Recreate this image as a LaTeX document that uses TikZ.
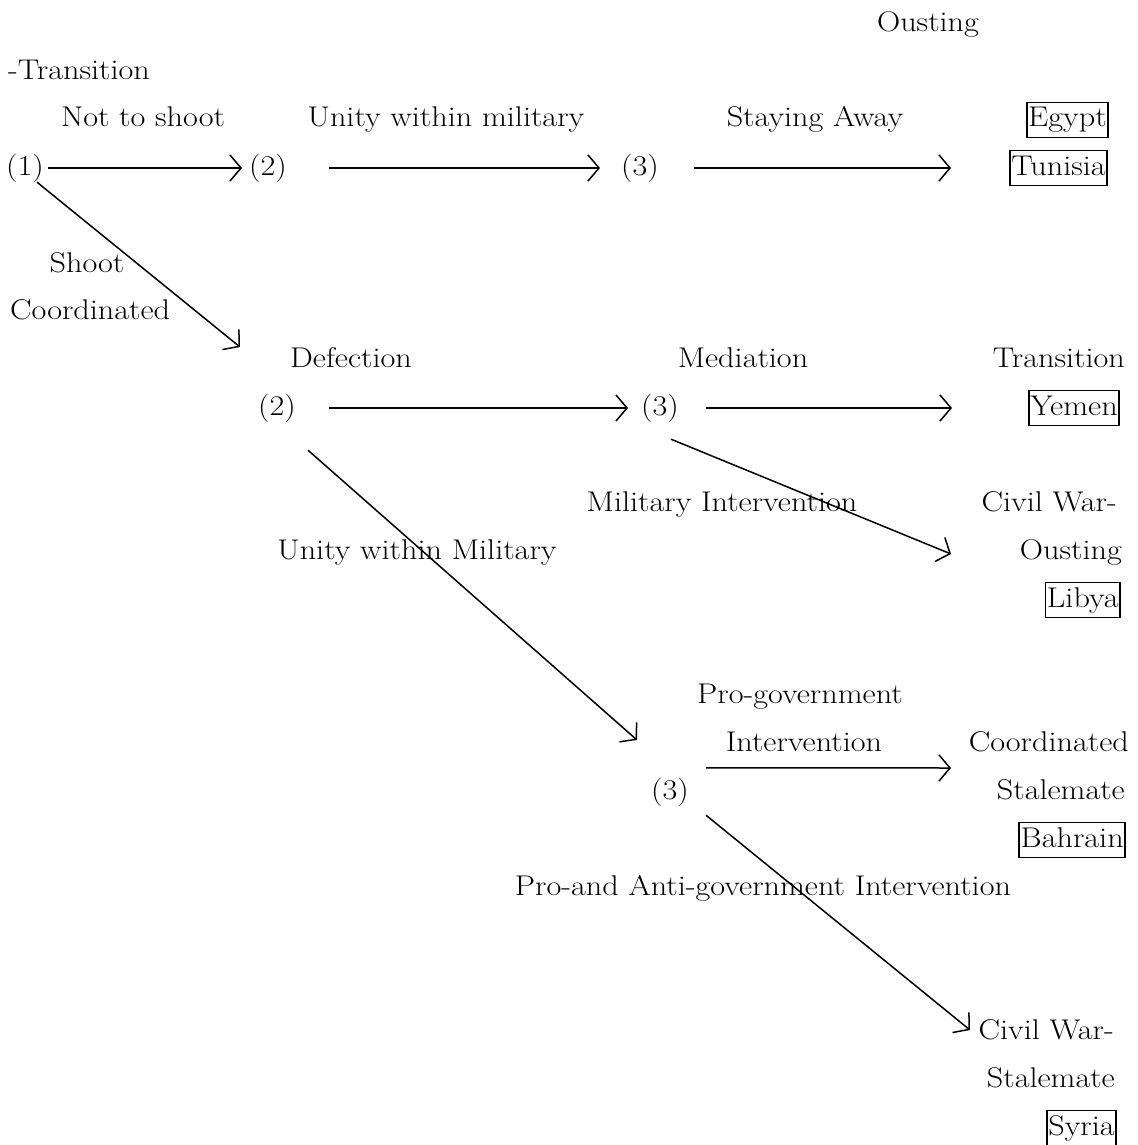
\documentclass[tikz,border=0pt]{standalone}
\usepackage{fontspec}
\setmainfont{Latin Modern Roman}[FakeStretch=1.13]
\usetikzlibrary{arrows.meta,calc}
\begin{document}
\begin{tikzpicture}[x=1pt,y=-1pt,
  every node/.style={font=\fontsize{28.5}{34}\selectfont, inner sep=0pt, text height=21pt, text depth=7pt},
  boxed/.style={draw, line width=1.6pt, inner xsep=1.5pt, inner ysep=3.5pt},
  arr/.style={line width=1.5pt, -{Straight Barb[length=11pt,width=26pt,line width=1.5pt]}}]
\path[use as bounding box] (0,0) rectangle (1137,1145);

% texts, top
\node (ousting1) at (928,25) {Ousting};
\node[anchor=west] (trans0) at (8,73) {-Transition};
\node (lnot) at (143,120) {Not to shoot};
\node (lunity1) at (446,120) {Unity within military};
\node (lstay) at (815,120) {Staying Away};
\node[boxed, anchor=east] (egypt) at (1109,120) {Egypt};
\node (n1) at (25,168) {(1)};
\node (n2) at (268,168) {(2)};
\node (n3) at (640,168) {(3)};
\node[boxed, anchor=east] (tunisia) at (1108,168) {Tunisia};

\node (lshoot) at (87,265) {Shoot};
\node[anchor=west] (lcoord1) at (10,312) {Coordinated};

% middle branch
\node (ldef) at (351,360) {Defection};
\node (lmed) at (743,360) {Mediation};
\node[anchor=east] (otrans) at (1125,360) {Transition};
\node (m2) at (277,408) {(2)};
\node (m3) at (660,408) {(3)};
\node[boxed, anchor=east] (yemen) at (1120,408) {Yemen};
\node (lmil) at (722,504) {Military Intervention};
\node[anchor=east] (ocw1) at (1117,504) {Civil War-};
\node (lunity2) at (417,552) {Unity within Military};
\node[anchor=east] (oousting) at (1122,552) {Ousting};
\node[boxed, anchor=east] (libya) at (1121,600) {Libya};

% lower branch
\node (lpro1) at (800,696) {Pro-government};
\node (lpro2) at (804,744) {Intervention};
\node[anchor=east] (ocoord) at (1129,744) {Coordinated};
\node (b3) at (670,792) {(3)};
\node[anchor=east] (ostale1) at (1125,792) {Stalemate};
\node[boxed, anchor=east] (bahrain) at (1126,840) {Bahrain};
\node (lproanti) at (763,888) {Pro-and Anti-government Intervention};
\node[anchor=east] (ocw2) at (1114,1032) {Civil War-};
\node[anchor=east] (ostale2) at (1115,1080) {Stalemate};
\node[boxed, anchor=east] (syria) at (1117,1128) {Syria};

% arrow tips (free ends)
\coordinate (c1) at (242,168);
\coordinate (c2) at (600,168);
\coordinate (c3) at (951,168);
\coordinate (c4) at (240,347);
\coordinate (c5) at (628,408);
\coordinate (c6) at (952,408);
\coordinate (c7) at (951,554);
\coordinate (c8) at (637,740);
\coordinate (c9) at (951,768);
\coordinate (c10) at (970,1030);

% connectors
\draw[arr, shorten <=4pt] (n1) -- (c1);
\draw[arr, shorten <=42pt] (n2) -- (c2);
\draw[arr, shorten <=35pt] (n3) -- (c3);
\draw[arr] ($(n1.south)+(12,0)$) -- (c4);
\draw[arr, shorten <=33pt] (m2) -- (c5);
\draw[arr, shorten <=27pt] (m3) -- (c6);
\draw[arr] ($(m3.south)+(11,17)$) -- (c7);
\draw[arr] ($(m2.south)+(31,28)$) -- (c8);
\draw[arr] ($(b3.north east)+(17,-10)$) -- (c9);
\draw[arr] ($(b3.south east)+(17,9)$) -- (c10);
\end{tikzpicture}
\end{document}
